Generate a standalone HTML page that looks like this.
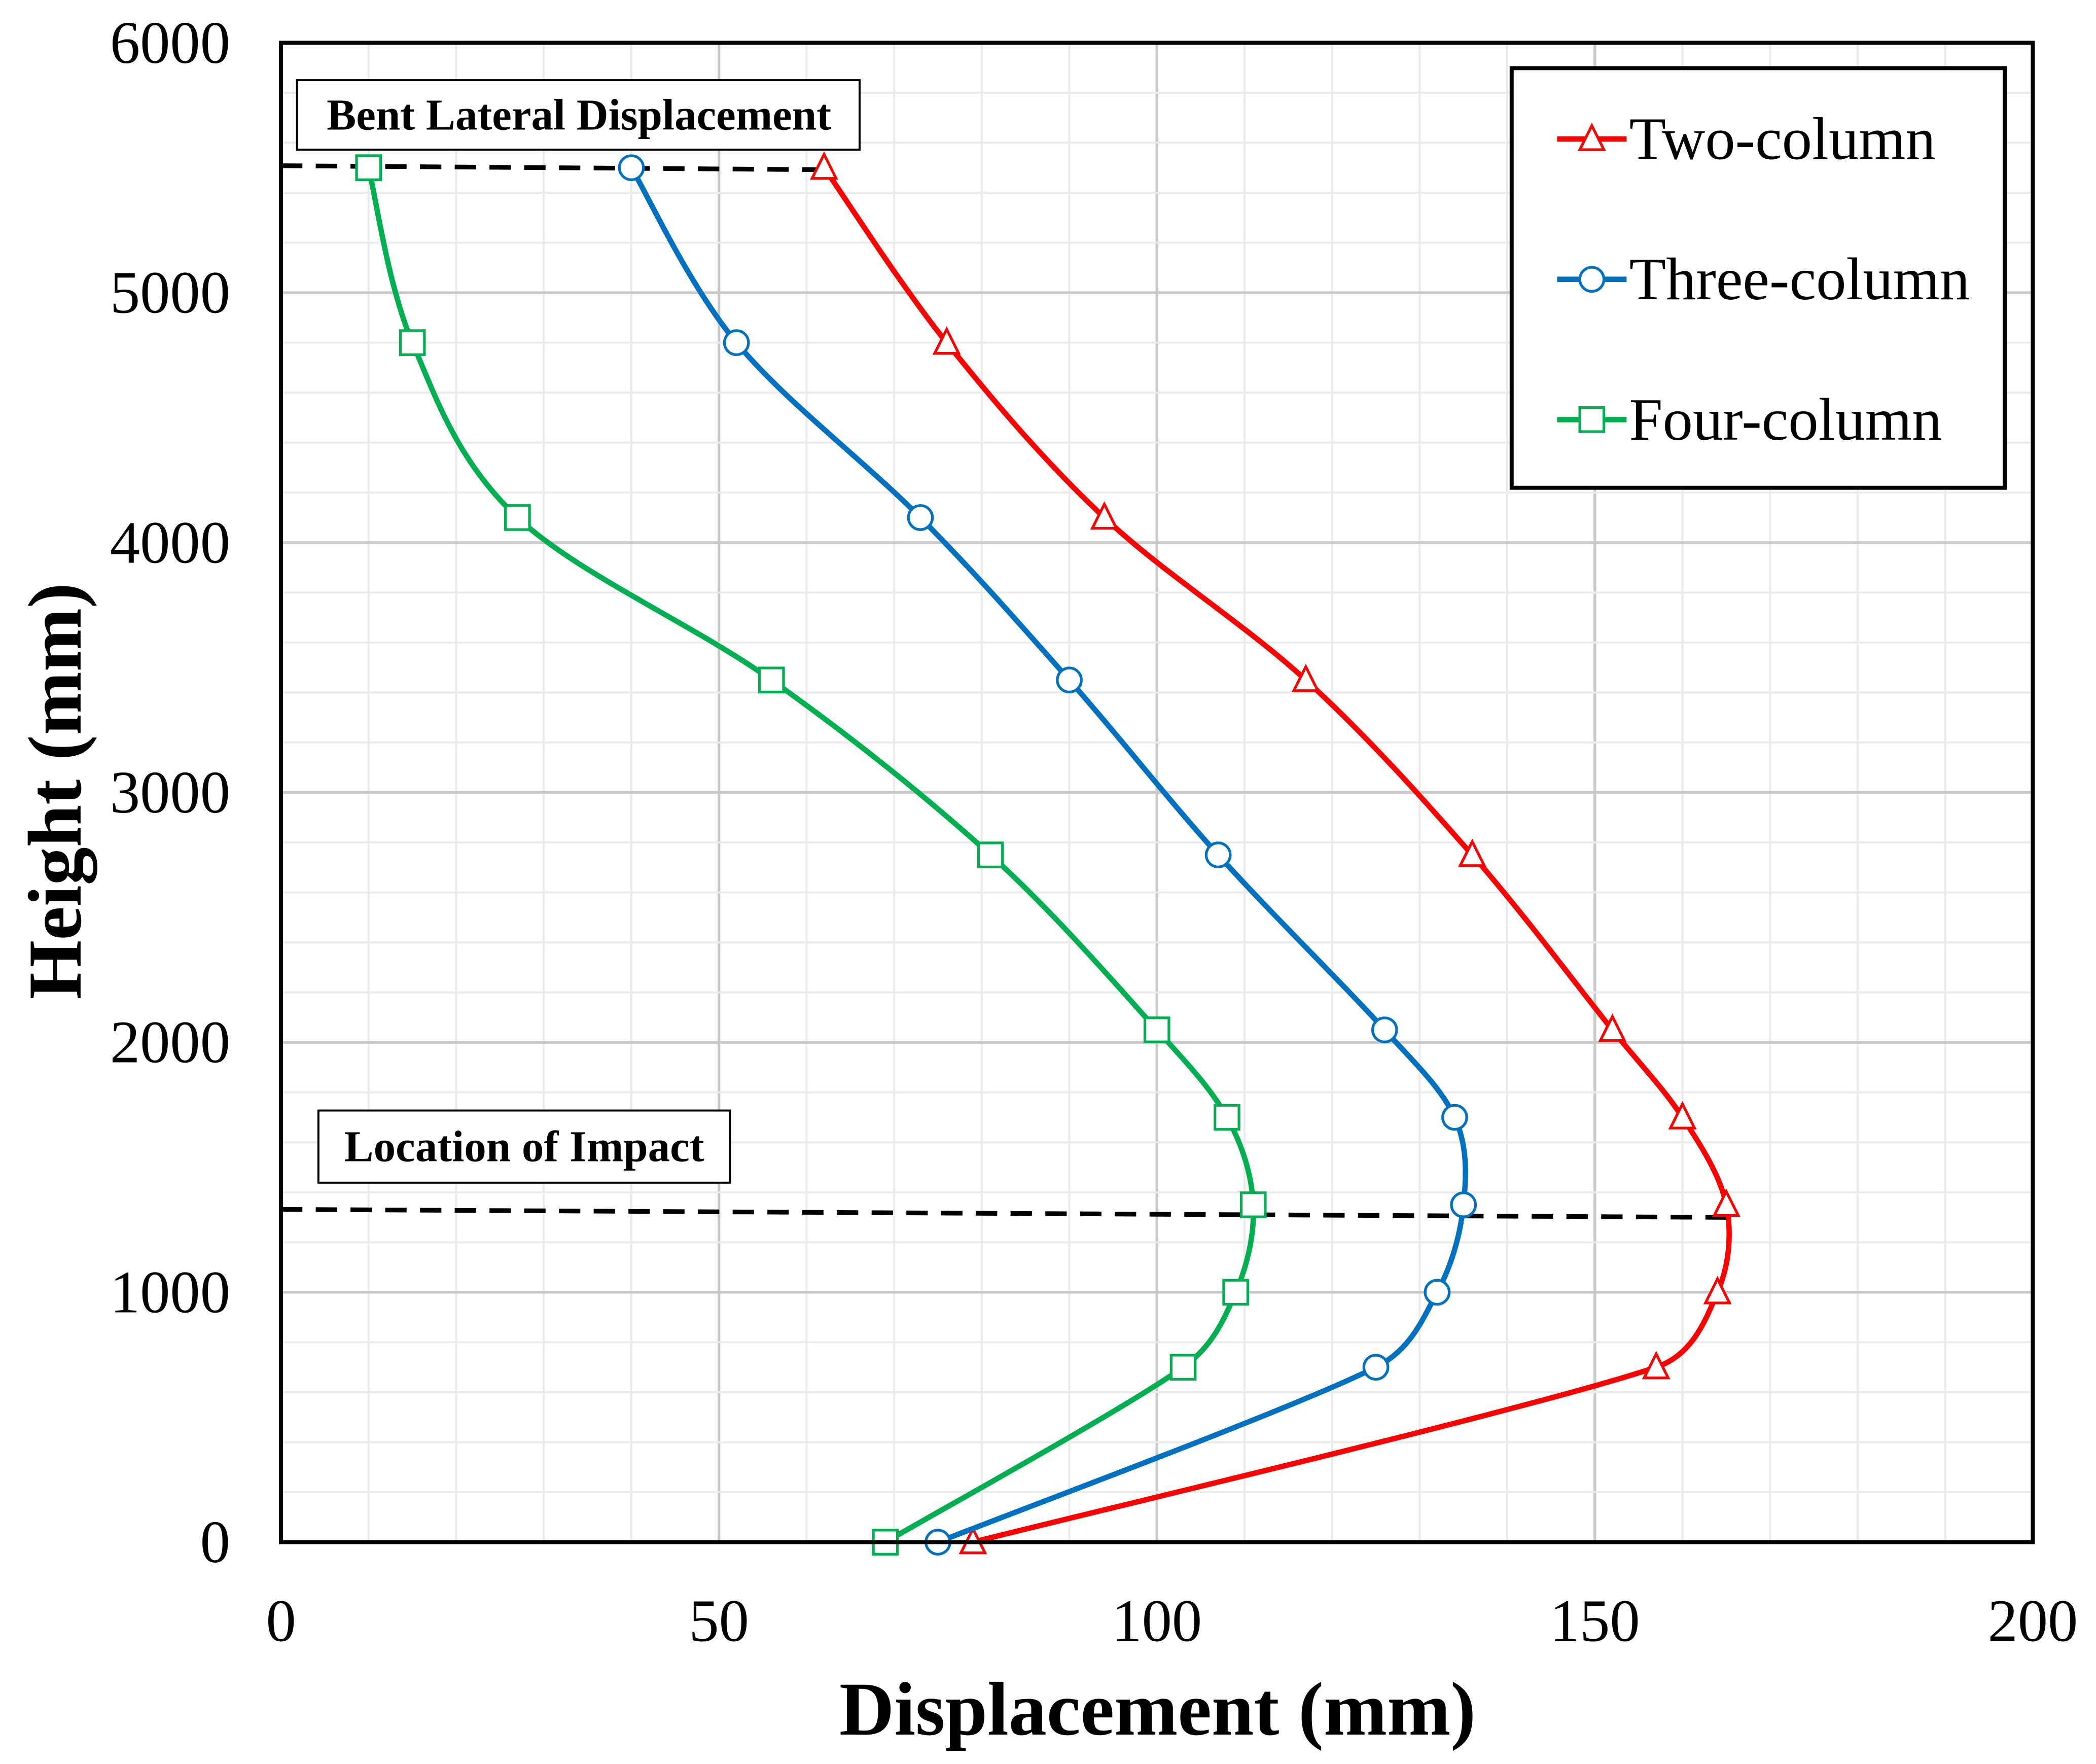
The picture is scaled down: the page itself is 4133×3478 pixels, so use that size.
<!DOCTYPE html>
<html><head><meta charset="utf-8"><style>html,body{margin:0;padding:0;background:#fff}svg{display:block}</style></head>
<body>
<svg id="chart" width="4133" height="3478" viewBox="0 0 1568 1320" xmlns="http://www.w3.org/2000/svg" font-family="'Liberation Serif', serif">
<rect width="1568" height="1320" fill="#fff"/>
<g id="grid"></g>
<g id="series"></g>
<rect x="210" y="32" width="1311" height="1122" fill="none" stroke="#000" stroke-width="3"/>
<g id="ticks"></g>
<text x="866" y="1298" font-size="57" font-weight="bold" text-anchor="middle">Displacement (mm)</text>
<text transform="translate(60,592) rotate(-90)" font-size="57" font-weight="bold" text-anchor="middle">Height (mm)</text>
<g>
<rect x="222" y="60" width="421" height="52" fill="#fff" stroke="#000" stroke-width="1.5"/>
<text x="433" y="97" font-size="33" font-weight="bold" text-anchor="middle">Bent Lateral Displacement</text></g>
<g>
<rect x="238" y="831" width="308" height="54" fill="#fff" stroke="#000" stroke-width="1.5"/>
<text x="392" y="869" font-size="33" font-weight="bold" text-anchor="middle">Location of Impact</text></g>
<g>
<rect x="1131" y="51" width="369" height="314" fill="#fff" stroke="#000" stroke-width="3"/>
<g id="legend-items"></g></g>
</svg>
<script>
const heights=[5500,4800,4100,3450,2750,2050,1700,1350,1000,700,0];
const twoCol=[62,76,94,117,136,152,160,165,164,157,79];
const threeCol=[40,52,73,90,107,126,134,135,132,125,75];
const fourCol=[10,15,27,56,81,100,108,111,109,103,69];
const xTicks=[0,50,100,150,200];
const yTicks=[0,1000,2000,3000,4000,5000,6000];
const NS="http://www.w3.org/2000/svg";
const X=v=>210+v*1311/200, Y=v=>1154-v*1122/6000;
function mk(t,a,p){const e=document.createElementNS(NS,t);for(const k in a)e.setAttribute(k,a[k]);p.appendChild(e);return e;}
const grid=document.getElementById('grid'),ticks=document.getElementById('ticks'),ser=document.getElementById('series');
for(let v=10;v<200;v+=10){const l=mk('line',{x1:X(v),x2:X(v),y1:32,y2:1154,stroke:v%50?'#ebebeb':'#c8c8c8','stroke-width':v%50?1.5:2},grid);

}
for(let v=200;v<6000;v+=200){const l=mk('line',{x1:210,x2:1521,y1:Y(v),y2:Y(v),stroke:v%1000?'#ebebeb':'#c8c8c8','stroke-width':v%1000?1.5:2},grid);

}
xTicks.forEach(v=>{const t=mk('text',{x:X(v),y:1228,'font-size':45,'text-anchor':'middle'},ticks);t.textContent=v;

});
yTicks.forEach(v=>{const t=mk('text',{x:172,y:Y(v)+15,'font-size':45,'text-anchor':'end'},ticks);t.textContent=v;

});
const d1=mk('line',{x1:210,y1:124,x2:617,y2:127,stroke:'#000','stroke-width':3.5,'stroke-dasharray':'16,10'},ser);


const d2=mk('line',{x1:210,y1:905,x2:1296,y2:911,stroke:'#000','stroke-width':3.5,'stroke-dasharray':'16,10'},ser);


function clampH(dx,dy,maxL){const L=Math.hypot(dx,dy);if(L>maxL&&L>0){dx*=maxL/L;dy*=maxL/L;}return [dx,dy];}
function spline(p){let d=`M${p[0][0]},${p[0][1]}`;for(let i=0;i<p.length-1;i++){const p0=p[i-1]||p[i],p1=p[i],p2=p[i+1],p3=p[i+2]||p2;const s=6;
const seg=Math.hypot(p2[0]-p1[0],p2[1]-p1[1])*0.4;
const a=clampH((p2[0]-p0[0])/s,(p2[1]-p0[1])/s,seg),b=clampH((p3[0]-p1[0])/s,(p3[1]-p1[1])/s,seg);
d+=`C${p1[0]+a[0]},${p1[1]+a[1]} ${p2[0]-b[0]},${p2[1]-b[1]} ${p2[0]},${p2[1]}`;}return d;}
function marker(kind,x,y,c,g){let e;
if(kind==='tri')e=mk('polygon',{points:`${x},${y-10} ${x-9},${y+8} ${x+9},${y+8}`,fill:'#fff',stroke:c,'stroke-width':2},g);
else if(kind==='circ')e=mk('circle',{cx:x,cy:y,r:9,fill:'#fff',stroke:c,'stroke-width':2},g);
else e=mk('rect',{x:x-9,y:y-9,width:18,height:18,fill:'#fff',stroke:c,'stroke-width':2},g);return e;}
const defs=[['Two-column',twoCol,'#ff0000','tri',104],['Three-column',threeCol,'#0070c0','circ',209],['Four-column',fourCol,'#00b050','sq',314]];
const li=document.getElementById('legend-items');
defs.forEach(([name,vals,c,kind,ly])=>{const g=mk('g',{},ser);


const pts=vals.map((v,i)=>[X(v),Y(heights[i])]);
mk('path',{d:spline(pts),fill:'none',stroke:c,'stroke-width':4},g);
pts.forEach(p=>{const m=marker(kind,p[0],p[1],c,g);

});
const lg=mk('g',{},li);


mk('line',{x1:1165,x2:1217,y1:ly,y2:ly,stroke:c,'stroke-width':4},lg);
marker(kind,1191,ly,c,lg);
const t=mk('text',{x:1219,y:ly+15,'font-size':45},lg);t.textContent=name;});
</script>
</body></html>
